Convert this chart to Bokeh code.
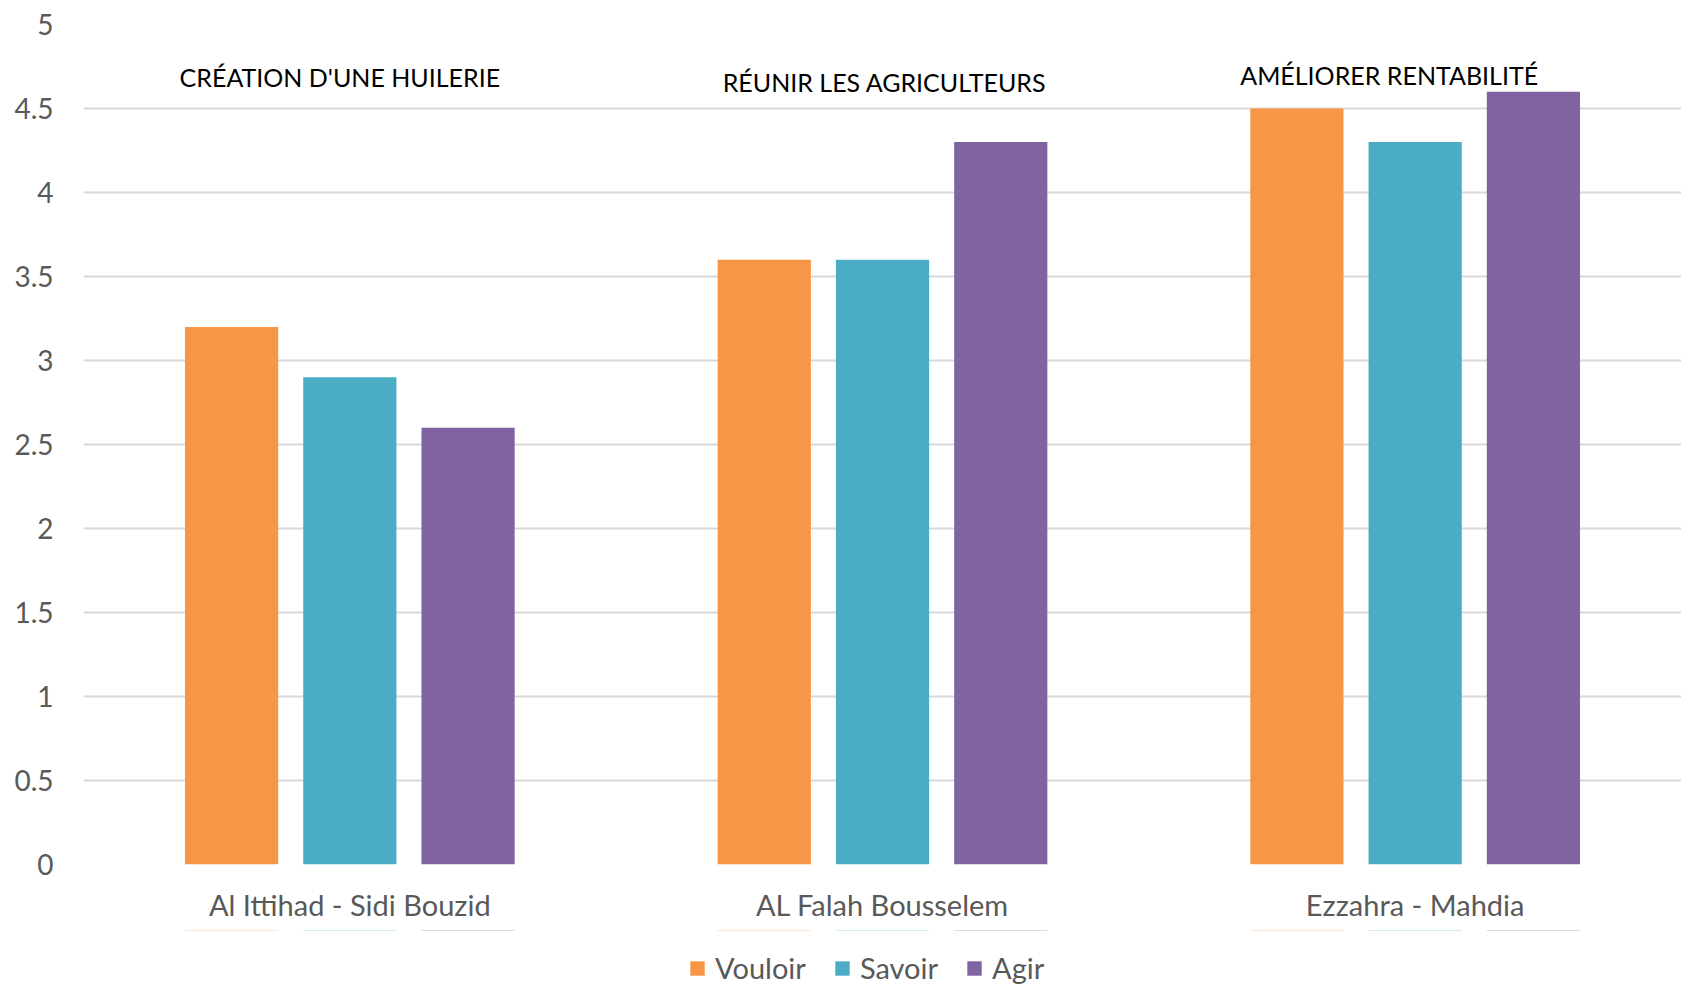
from bokeh.plotting import figure
from bokeh.layouts import column
from bokeh.models import (ColumnDataSource, Legend, LegendItem, NumeralTickFormatter,
                          FixedTicker, Range1d, FactorRange)
from bokeh.transform import dodge
from bokeh.core.properties import value
from bokeh.embed import file_html
from bokeh.resources import INLINE

# ---- data ----
groups = ["Al Ittihad - Sidi Bouzid", "AL Falah Bousselem", "Ezzahra - Mahdia"]
series = ["Vouloir", "Savoir", "Agir"]
vouloir = [3.2, 3.6, 4.5]
savoir = [2.9, 3.6, 4.3]
agir = [2.6, 4.3, 4.6]
y_ticks = [0, 0.5, 1, 1.5, 2, 2.5, 3, 3.5, 4, 4.5, 5]
annotations = ["CRÉATION D'UNE HUILERIE", "RÉUNIR LES AGRICULTEURS", "AMÉLIORER RENTABILITÉ"]

# ---- layout / style ----
colors = ["#F79646", "#4BACC6", "#8064A2"]
ann_y = [4.69, 4.66, 4.70]
ann_dx = [-10, 2, -26]
FONT = "Lato"
GREY = "#595959"

src = ColumnDataSource(dict(g=groups, Vouloir=vouloir, Savoir=savoir, Agir=agir))
xr = FactorRange(*groups, range_padding=0)

p = figure(x_range=xr, y_range=Range1d(0, 5),
           frame_width=1598, frame_height=840, output_backend="svg", toolbar_location=None,
           min_border_left=83, min_border_right=0, min_border_top=24, min_border_bottom=66)
p.outline_line_color = None

offsets = [-0.222, 0.0, 0.222]
for s, c, off in zip(series, colors, offsets):
    p.vbar(x=dodge("g", off, range=xr), top=s, width=0.175, source=src,
           fill_color=c, line_color=None)

ann_src = ColumnDataSource(dict(x=groups, y=ann_y, t=annotations, dx=ann_dx))
p.text(x="x", y="y", text="t", x_offset="dx", source=ann_src, text_align="center",
       text_baseline="middle", text_font=value(FONT), text_font_size="25px",
       text_color="#000000")

# axes
p.yaxis.ticker = FixedTicker(ticks=y_ticks)
p.yaxis.formatter = NumeralTickFormatter(format="0.[0]")
p.yaxis.axis_line_color = None
p.yaxis.major_tick_line_color = None
p.yaxis.minor_tick_line_color = None
p.yaxis.major_label_text_font = FONT
p.yaxis.major_label_text_font_size = "28px"
p.yaxis.major_label_text_color = GREY
p.yaxis.major_label_standoff = 24

p.xaxis.axis_line_color = None
p.xaxis.major_tick_line_color = None
p.xaxis.major_label_text_font = FONT
p.xaxis.major_label_text_font_size = "29px"
p.xaxis.major_label_text_color = GREY
p.xaxis.major_label_standoff = 16

p.xgrid.grid_line_color = None
p.ygrid.grid_line_color = "#D9D9D9"
p.ygrid.grid_line_width = 2

# ---- legend strip below the chart (zero-height swatch bars, outside its y range) ----
lg = figure(width=1681, height=56, output_backend="svg", toolbar_location=None,
            x_range=xr, y_range=Range1d(-2, -1),
            x_axis_location=None, y_axis_location=None, min_border=0)
lg.outline_line_color = None
lg.xgrid.visible = False
lg.ygrid.visible = False
swatches = []
for s, c, off in zip(series, colors, offsets):
    swatches.append(lg.vbar(x=dodge("g", off, range=xr), top=s, bottom=s, width=0.175,
                            source=src, fill_color=c, line_color=None))

legend = Legend(items=[LegendItem(label=s, renderers=[r]) for s, r in zip(series, swatches)],
                orientation="horizontal", location=(605, 1))
legend.label_text_font = FONT
legend.label_text_font_size = "29px"
legend.label_text_color = GREY
legend.glyph_width = 18
legend.glyph_height = 18
legend.spacing = 27
legend.label_standoff = 9
legend.border_line_color = None
legend.background_fill_alpha = 0
legend.padding = 0
legend.margin = 0
lg.add_layout(legend, "center")

layout = column(p, lg, spacing=0)
open("out.html", "w").write(file_html(layout, INLINE))
